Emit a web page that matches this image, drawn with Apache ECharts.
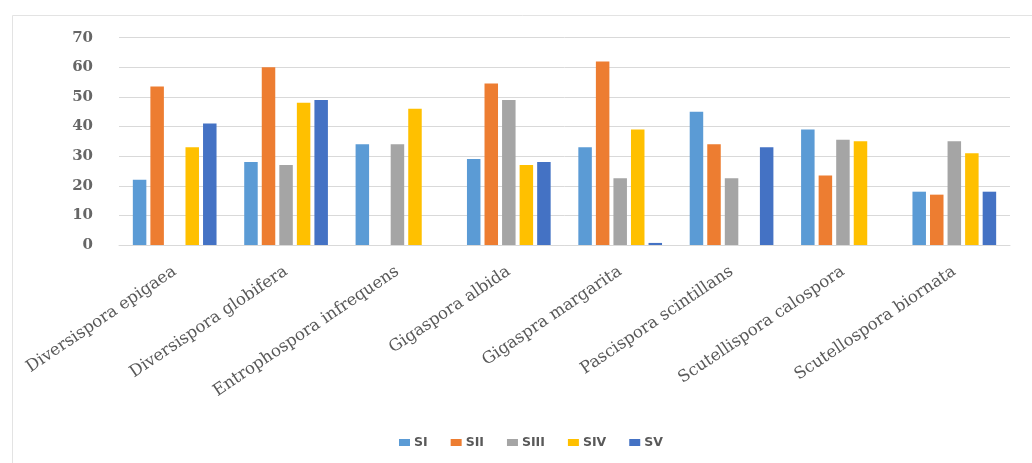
<!DOCTYPE html>
<html>
<head>
<meta charset="utf-8">
<script src="https://cdn.jsdelivr.net/npm/echarts@6/dist/echarts.min.js"></script>
<style>
html,body{margin:0;padding:0;background:#fff;}
#chart{width:1032px;height:463px;}
</style>
</head>
<body>
<div id="chart"></div>
<script>
var categories = ["Diversispora epigaea", "Diversispora globifera", "Entrophospora infrequens", "Gigaspora albida", "Gigaspra margarita", "Pascispora scintillans", "Scutellispora calospora", "Scutellospora biornata"];
var seriesNames = ["SI", "SII", "SIII", "SIV", "SV"];
var SI   = [22, 28, 34, 29, 33, 45, 39, 18];
var SII  = [53.5, 60, 0, 54.5, 62, 34, 23.5, 17];
var SIII = [0, 27, 34, 49, 22.5, 22.5, 35.5, 35];
var SIV  = [33, 48, 46, 27, 39, 0, 35, 31];
var SV   = [41, 49, 0, 28, 0.7, 33, 0, 18];
var yTicks = [0, 10, 20, 30, 40, 50, 60, 70];

var colors = ["#5B9BD5", "#ED7D31", "#A5A5A5", "#FFC000", "#4472C4"];
var values = [SI, SII, SIII, SIV, SV];

var chart = echarts.init(document.getElementById('chart'), null, {renderer: 'canvas'});
chart.setOption({
  animation: false,
  backgroundColor: '#ffffff',
  color: colors,
  graphic: [{
    type: 'rect',
    shape: {x: 12.5, y: 15.5, width: 1040, height: 470},
    style: {fill: 'none', stroke: '#E3E3E3', lineWidth: 1},
    silent: true
  }],
  grid: {left: 119, right: 22, top: 37.7, bottom: 218, containLabel: false},
  legend: {
    left: 394, top: 431,
    itemWidth: 11, itemHeight: 7, itemGap: 23,
    icon: 'rect',
    textStyle: {fontFamily: 'DejaVu Sans', fontSize: 12.5, fontWeight: 'bold', color: '#595959', padding: [0, 0, 0, -1]},
    data: seriesNames
  },
  xAxis: {
    type: 'category',
    data: categories,
    axisLine: {show: true, lineStyle: {color: '#D9D9D9', width: 1}},
    axisTick: {show: false},
    axisLabel: {
      interval: 0, rotate: 34, margin: 25,
      fontFamily: 'DejaVu Serif', fontSize: 16.5, color: '#595959'
    }
  },
  yAxis: {
    type: 'value',
    min: yTicks[0], max: yTicks[yTicks.length - 1], interval: 10,
    axisLine: {show: false},
    axisTick: {show: false},
    splitLine: {lineStyle: {color: '#D9D9D9', width: 1}},
    axisLabel: {margin: 26, fontFamily: 'DejaVu Serif', fontSize: 15, fontWeight: 'bold', color: '#666666'}
  },
  series: seriesNames.map(function (n, i) {
    return {
      name: n, type: 'bar', data: values[i],
      barWidth: 13.5, barGap: '30%',
      itemStyle: {color: colors[i]}
    };
  })
});
</script>
</body>
</html>
